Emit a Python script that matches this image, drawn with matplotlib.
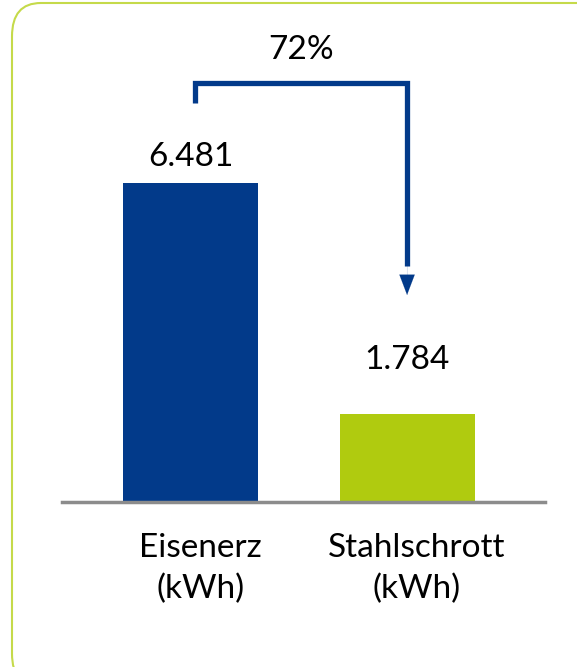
import matplotlib.pyplot as plt
import matplotlib.transforms as mtransforms
from matplotlib.patches import FancyBboxPatch

# values
categories = ["Eisenerz\n(kWh)", "Stahlschrott\n(kWh)"]
values = [6481, 1784]
value_labels = ["6.481", "1.784"]
label_offsets = [530, 1100]
change_label = "72%"

navy = "#023A8A"
green = "#B0CB0F"

plt.rcParams['font.family'] = ['Lato', 'DejaVu Sans']

fig = plt.figure(figsize=(5.77, 6.67), dpi=100)

# rounded frame around the chart (partly cut off right/bottom)
frame = FancyBboxPatch((12 / 577, -20 / 667), 600 / 577, 684 / 667,
                       boxstyle="round,pad=0,rounding_size=0.05",
                       transform=fig.transFigure, facecolor="none",
                       edgecolor="#C5DA4A", linewidth=1.5, clip_on=False)
fig.patches.append(frame)

ax = fig.add_axes([62 / 577, 165 / 667, 483 / 577, 472 / 667])
x = range(len(values))
ax.bar(x, values, width=0.624, color=[navy, green], zorder=2)
ax.set_xlim(-0.5935, 1.637)
ax.set_ylim(0, 9590)

for i, (v, lab) in enumerate(zip(values, value_labels)):
    ax.text(i, v + label_offsets[i], lab, ha="center", va="center",
            fontsize=24, color="black")

ax.set_xticks(list(x))
ax.set_xticklabels(categories, fontsize=24, linespacing=1.45)
ax.tick_params(axis="x", length=0, pad=22)
shift = mtransforms.ScaledTranslation(10 / 100, 0, fig.dpi_scale_trans)
for t in ax.get_xticklabels():
    t.set_transform(t.get_transform() + shift)
ax.set_yticks([])
for s in ["top", "left", "right"]:
    ax.spines[s].set_visible(False)
ax.spines["bottom"].set_color("#8C8C8C")
ax.spines["bottom"].set_linewidth(2.5)

# elbow arrow from bar 1 to bar 2
y_top = 8513
ax.plot([0.02, 0.02, 1.0, 1.0], [8106, y_top, y_top, 4800],
        color=navy, lw=3.8, solid_joinstyle="miter", solid_capstyle="butt")
ax.annotate("", xy=(1.0, 4206), xytext=(1.0, 4850),
            arrowprops=dict(arrowstyle="-|>,head_width=0.55,head_length=1.45",
                            color=navy, lw=0.1, shrinkA=0, shrinkB=0))
ax.text(0.51, y_top + 672, change_label, ha="center", va="center",
        fontsize=24, color="black")

fig.savefig("out.png", dpi=100)
